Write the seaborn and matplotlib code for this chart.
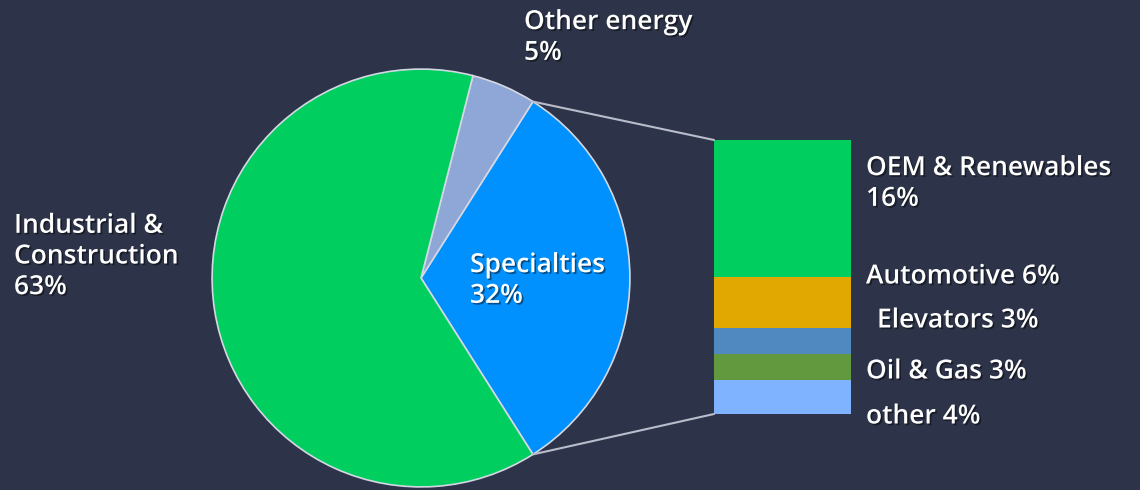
import numpy as np
import matplotlib
matplotlib.use("Agg")
import matplotlib.pyplot as plt
import matplotlib.patheffects as pe
from matplotlib.patches import ConnectionPatch
import seaborn as sns

# ==========================================================
# Data
# ==========================================================

pie_labels = ["Specialties", "Other energy", "Industrial &\nConstruction"]
pie_values = [32, 5, 63]
pie_colors = ["#0091ff", "#8ea7d6", "#00cf5f"]

bar_labels = ["OEM & Renewables", "Automotive", "Elevators", "Oil & Gas", "other"]
bar_values = [16, 6, 3, 3, 4]
bar_colors = ["#00cf5f", "#e0a800", "#4f89bf", "#62983e", "#80b3ff"]

# ==========================================================
# Style
# ==========================================================

BG = "#2d3348"
sns.set_theme(style="dark", rc={"figure.facecolor": BG, "axes.facecolor": BG})
plt.rcParams["font.family"] = ["Open Sans", "DejaVu Sans"]

W, H = 1140, 490
fig = plt.figure(figsize=(W / 100, H / 100), dpi=100)

shadow = [pe.SimplePatchShadow(offset=(1.2, -1.2), alpha=0.45, shadow_rgbFace="black"), pe.Normal()]


def label(x, y, s, **kw):
    fig.text(x / W, 1 - y / H, s, color="white", fontsize=19, fontweight="semibold",
             va="center", ha="left", linespacing=1.3, path_effects=shadow, **kw)


# ==========================================================
# Pie
# ==========================================================

cx, cy, r = 421, 278, 211
ax_pie = fig.add_axes([(cx - r) / W, (H - cy - r) / H, 2 * r / W, 2 * r / H])
ax_pie.set_facecolor(BG)

start = -360 * pie_values[0] / 100 / 2
ax_pie.pie(pie_values, colors=pie_colors, startangle=start, counterclock=True,
           radius=1, wedgeprops=dict(edgecolor="#d4d8e4", linewidth=1.2))
ax_pie.set_xlim(-1.01, 1.01)
ax_pie.set_ylim(-1.01, 1.01)
ax_pie.set_aspect("equal")
ax_pie.axis("off")

# ==========================================================
# Stacked bar
# ==========================================================

bx0, bx1, by0, by1 = 714, 851, 140, 414
ax_bar = fig.add_axes([bx0 / W, (H - by1) / H, (bx1 - bx0) / W, (by1 - by0) / H])
total = sum(bar_values)
bottoms = total - np.cumsum(bar_values)
for v, b, c in zip(bar_values, bottoms, bar_colors):
    ax_bar.bar(0, v, bottom=b, width=1, color=c, linewidth=0)
ax_bar.set_xlim(-0.5, 0.5)
ax_bar.set_ylim(0, total)
ax_bar.axis("off")

# connector lines
theta_top = np.deg2rad(start + 360 * pie_values[0] / 100)
theta_bot = np.deg2rad(start)
for th, yb in [(theta_top, total), (theta_bot, 0)]:
    con = ConnectionPatch(xyA=(np.cos(th), np.sin(th)), coordsA=ax_pie.transData,
                          xyB=(-0.5, yb), coordsB=ax_bar.transData,
                          color="#b9bdcb", linewidth=1.5)
    fig.add_artist(con)

# ==========================================================
# Labels
# ==========================================================

label(470, 281, f"{pie_labels[0]}\n{pie_values[0]}%")
label(524, 38, f"{pie_labels[1]}\n{pie_values[1]}%")
label(14, 257, f"{pie_labels[2]}\n{pie_values[2]}%")

label(866, 184, f"{bar_labels[0]}\n{bar_values[0]}%")
label(866, 277, f"{bar_labels[1]} {bar_values[1]}%")
label(877, 321, f"{bar_labels[2]} {bar_values[2]}%")
label(866, 372, f"{bar_labels[3]} {bar_values[3]}%")
label(866, 417, f"{bar_labels[4]} {bar_values[4]}%")

fig.savefig("out.png", dpi=100, facecolor=BG)
